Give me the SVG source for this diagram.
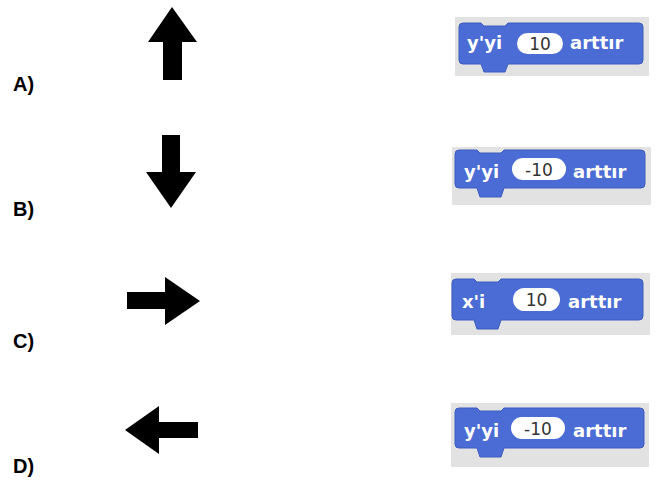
<svg xmlns="http://www.w3.org/2000/svg" width="656" height="481" viewBox="0 0 656 481">
<style>
.lbl{font-family:"Liberation Sans",Arial,sans-serif;font-weight:bold;font-size:20px;fill:#000}
.arrow{fill:#000}
.bg{fill:#e2e2e2}
.blk{fill:#4a6cd4;stroke:#3d5cbd;stroke-width:1}
.bt{font-family:"DejaVu Sans",sans-serif;font-weight:bold;font-size:18px;fill:#fff}
.oval{fill:#fff}
.num{font-family:"DejaVu Sans",sans-serif;font-size:17px;fill:#333;text-anchor:middle}
</style>
<rect width="656" height="481" fill="#fff"/>

<g id="optA">
<text class="lbl" x="13" y="91">A)</text>
<polygon class="arrow" points="172,7 197,42 182,42 182,80 163,80 163,42 148,42"/>
<g id="blockA">
<rect class="bg" x="455" y="17" width="194" height="59"/>
<path class="blk" d="M463,23 H481 L484,26 H505 L508,23 H639 Q643,23 643,27 V60 Q643,64 639,64 H508 L505,72 H484 L481,64 H463 Q459,64 459,60 V27 Q459,23 463,23 Z"/>
<text class="bt" x="467" y="49">y'yi</text>
<rect class="oval" x="517" y="33" width="46" height="21" rx="10.5"/>
<text class="num" x="540" y="49.5">10</text>
<text class="bt" x="570" y="49">arttır</text>
</g>
</g>

<g id="optB">
<text class="lbl" x="13" y="216">B)</text>
<polygon class="arrow" points="162,135 180,135 180,172 196,172 171,208 146,172 162,172"/>
<g id="blockB">
<rect class="bg" x="452" y="147" width="199" height="58"/>
<path class="blk" d="M459,150 H477 L480,153 H501 L504,150 H641 Q645,150 645,154 V184 Q645,188 641,188 H504 L501,197 H480 L477,188 H459 Q455,188 455,184 V154 Q455,150 459,150 Z"/>
<text class="bt" x="464" y="178">y'yi</text>
<rect class="oval" x="512" y="158" width="54" height="22" rx="11"/>
<text class="num" x="539" y="175.5">-10</text>
<text class="bt" x="573" y="178">arttır</text>
</g>
</g>

<g id="optC">
<text class="lbl" x="13" y="348">C)</text>
<polygon class="arrow" points="127,292 165,292 165,277 200,301 165,325 165,309 127,309"/>
<g id="blockC">
<rect class="bg" x="451" y="273" width="199" height="62"/>
<path class="blk" d="M456,279 H474 L477,282 H498 L501,279 H639 Q643,279 643,283 V316 Q643,320 639,320 H501 L498,329 H477 L474,320 H456 Q452,320 452,316 V283 Q452,279 456,279 Z"/>
<text class="bt" x="462" y="308">x'i</text>
<rect class="oval" x="513" y="288" width="47" height="23" rx="11.5"/>
<text class="num" x="536.5" y="305.5">10</text>
<text class="bt" x="568" y="308">arttır</text>
</g>
</g>

<g id="optD">
<text class="lbl" x="13" y="473">D)</text>
<polygon class="arrow" points="125,430 159,406 159,422 198,422 198,438 159,438 159,454"/>
<g id="blockD">
<rect class="bg" x="451" y="403" width="198" height="64"/>
<path class="blk" d="M459,408 H477 L480,411 H501 L504,408 H640 Q644,408 644,412 V444 Q644,448 640,448 H504 L501,457 H480 L477,448 H459 Q455,448 455,444 V412 Q455,408 459,408 Z"/>
<text class="bt" x="464" y="437">y'yi</text>
<rect class="oval" x="511" y="417" width="54" height="22" rx="11"/>
<text class="num" x="538" y="434.5">-10</text>
<text class="bt" x="573" y="437">arttır</text>
</g>
</g>
</svg>
